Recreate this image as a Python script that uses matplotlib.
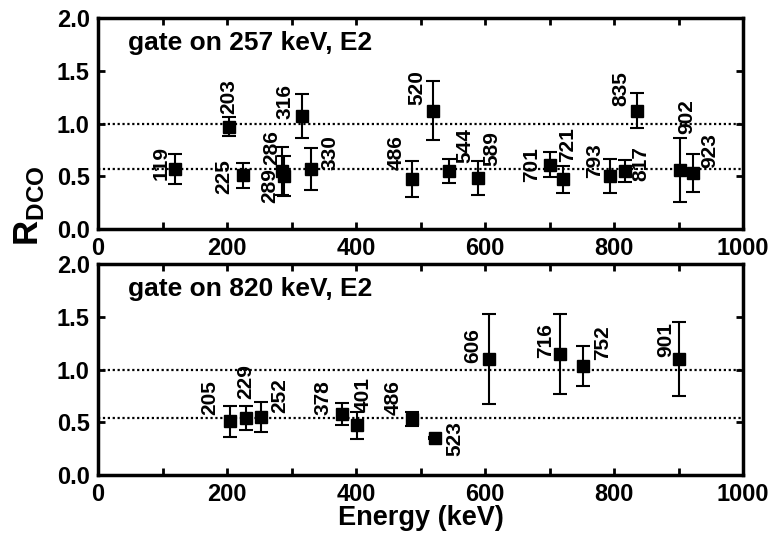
import matplotlib
matplotlib.use("Agg")
import matplotlib.pyplot as plt
from matplotlib.ticker import MultipleLocator

plt.rcParams['font.family'] = ['Liberation Sans', 'DejaVu Sans']
plt.rcParams['font.weight'] = 'bold'
plt.rcParams['mathtext.fontset'] = 'custom'
plt.rcParams['mathtext.rm'] = 'Liberation Sans:bold'
plt.rcParams['mathtext.bf'] = 'Liberation Sans:bold'

# gate on 257 keV
e_257 = [119, 203, 225, 286, 289, 316, 330, 486, 520, 544, 589, 701, 721, 793, 817, 835, 902, 923]
r_257 = [0.57, 0.97, 0.51, 0.55, 0.50, 1.07, 0.57, 0.47, 1.12, 0.55, 0.48, 0.61, 0.47, 0.50, 0.55, 1.12, 0.56, 0.53]
err_257 = [0.14, 0.09, 0.12, 0.23, 0.19, 0.21, 0.20, 0.17, 0.28, 0.11, 0.16, 0.12, 0.13, 0.16, 0.10, 0.165, 0.30, 0.18]
lines_257 = [1.0, 0.57]

# gate on 820 keV
e_820 = [205, 229, 252, 378, 401, 486, 523, 606, 716, 752, 901]
r_820 = [0.51, 0.54, 0.55, 0.58, 0.47, 0.53, 0.35, 1.10, 1.15, 1.03, 1.10]
err_820 = [0.145, 0.11, 0.145, 0.105, 0.13, 0.07, 0.01, 0.43, 0.38, 0.19, 0.35]
lines_820 = [1.0, 0.54]

# label offsets (pixels) for the energy tags
off_257 = [(-14, 6), (0, 30), (-19, -1), (-11, 23), (-15, -9), (-17, 15), (19, 16), (-15, 27), (-17, 23),
           (16, 25), (14, 30), (-19, 0), (5, 35), (-15, 16), (16, 7), (-16, 22), (7, 53), (16, 23)]
off_820 = [(-21, 24), (0, 36), (19, 21), (-19, 16), (6, 31), (-18, 22), (20, 0), (-16, 13), (-14, 13),
           (20, 24), (-13, 19)]

fig = plt.figure(figsize=(7.7, 5.39), dpi=100)
ax1 = fig.add_axes([0.1273, 0.5751, 0.8377, 0.3915])
ax2 = fig.add_axes([0.1273, 0.1187, 0.8377, 0.3915])


def draw_panel(ax, e, r, err, lines, offs, title):
    for y in lines:
        ax.axhline(y, color='black', ls=(0, (1, 1.2)), lw=1.6, zorder=1)
    ax.errorbar(e, r, yerr=err, fmt='s', color='black', ms=8.5, capsize=5, elinewidth=1.5,
                capthick=1.5, zorder=3)
    for x, y, (dx, dy) in zip(e, r, offs):
        ax.annotate(str(x), (x, y), xytext=(dx, dy), textcoords='offset pixels', rotation=90,
                    ha='center', va='center', fontsize=15, fontweight='bold')
    ax.text(0.047, 0.88, title, transform=ax.transAxes, ha='left', va='center',
            fontsize=19, fontweight='bold')
    ax.set_xlim(0, 1000)
    ax.set_ylim(0, 2.0)
    ax.xaxis.set_major_locator(MultipleLocator(200))
    ax.xaxis.set_minor_locator(MultipleLocator(100))
    ax.yaxis.set_major_locator(MultipleLocator(0.5))
    ax.tick_params(which='both', direction='in', top=True, right=True, width=2, length=5,
                   labelsize=17, pad=6)
    ax.set_yticks([0.0, 0.5, 1.0, 1.5, 2.0])
    ax.set_yticklabels(['0.0', '0.5', '1.0', '1.5', '2.0'])
    for s in ax.spines.values():
        s.set_linewidth(2.5)
    for lab in ax.get_xticklabels() + ax.get_yticklabels():
        lab.set_fontweight('bold')


draw_panel(ax1, e_257, r_257, err_257, lines_257, off_257, 'gate on 257 keV, E2')
draw_panel(ax2, e_820, r_820, err_820, lines_820, off_820, 'gate on 820 keV, E2')

ax2.set_xlabel('Energy (keV)', fontsize=19.5, fontweight='bold', labelpad=-1)
fig.text(0.038, 0.618, r'$\mathbf{R}_{\mathbf{DCO}}$', rotation=90, ha='center', va='center',
         fontsize=25)

fig.savefig('out.png', dpi=100)
